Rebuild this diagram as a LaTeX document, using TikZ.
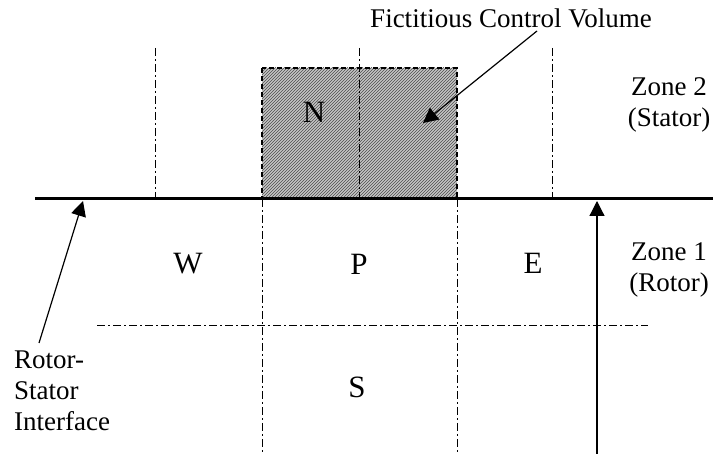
\documentclass[tikz,border=0pt]{standalone}
\usepackage{fontspec}
\setmainfont{Liberation Serif}
\usetikzlibrary{patterns,arrows.meta}

\tikzset{
  cvline/.style={line width=0.9pt, dash pattern=on 8pt off 3pt on 2pt off 3pt},
  cell/.style={font=\fontsize{31}{34}\selectfont},
  lbl/.style={font=\fontsize{27}{31}\selectfont},
  pointer/.style={line width=1.2pt, -{Triangle[length=15pt,width=15pt]}}
}

\begin{document}
\begin{tikzpicture}[x=1pt,y=-1pt]
    \useasboundingbox (0,0) rectangle (713,454);
    % fictitious control volume
    \fill[gray!45] (262,68) rectangle (457,199);
    \fill[pattern=north east lines, pattern color=black!70] (262,68) rectangle (457,199);
    \draw[line width=1.4pt, dash pattern=on 5pt off 3pt] (262,68) rectangle (457,199);
    % grid lines in zone 2
    \draw[cvline] (155,48) -- (155,199);
    \draw[cvline] (359,48) -- (359,199);
    \draw[cvline] (552,48) -- (552,199);
    % grid lines in zone 1
    \draw[cvline] (262,199) -- (262,454);
    \draw[cvline] (457,199) -- (457,454);
    \draw[cvline] (97,325) -- (648,325);
    % interface
    \draw[line width=3pt] (35,199) -- (713,199);
    \coordinate (ifl) at (83,201);
    \coordinate (ifr) at (597,201);
    \coordinate (cvp) at (423,123);
    \coordinate (zb) at (597,454);
    \coordinate (rsp) at (39,343);
    \coordinate (fcp) at (537,31);
    % cell labels
    \node[cell] (N) at (314,112) {N};
    \node[cell] (W) at (188,264) {W};
    \node[cell] (P) at (359,264) {P};
    \node[cell] (E) at (533,263) {E};
    \node[cell] (S) at (357,387) {S};
    % zone labels
    \node[lbl, align=center, anchor=north, inner sep=0pt] (z2) at (669,77) {Zone 2\\(Stator)};
    \node[lbl, align=center, anchor=north, inner sep=0pt] (z1) at (669,242) {Zone 1\\(Rotor)};
    \node[lbl, align=left, anchor=north west, inner sep=0pt] (rsi) at (14,351) {Rotor-\\Stator\\Interface};
    \node[lbl, anchor=base] (fcv) at (511,28) {Fictitious Control Volume};
    % pointers
    \draw[pointer] (rsp) -- (ifl);
    \draw[pointer] (fcp) -- (cvp);
    \draw[pointer] (zb) -- (ifr);
\end{tikzpicture}
\end{document}
